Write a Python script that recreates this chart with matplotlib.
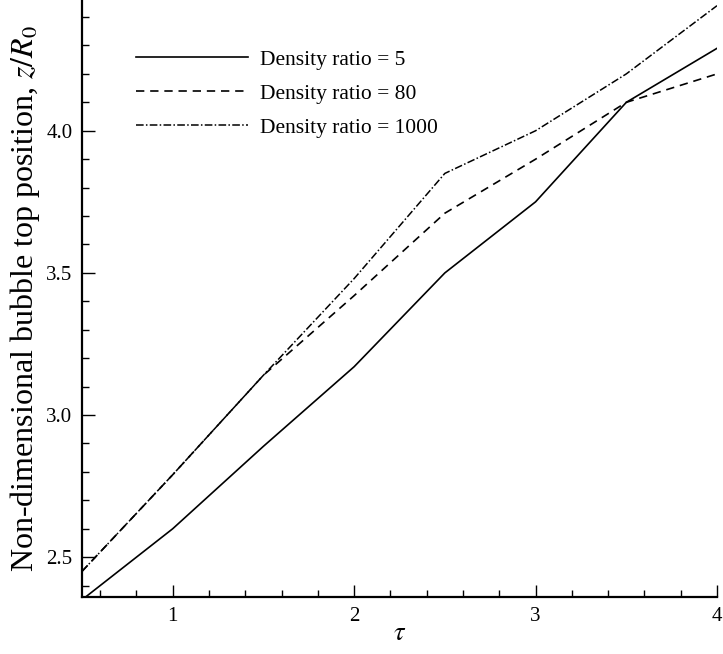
import matplotlib.pyplot as plt
from matplotlib.ticker import MultipleLocator

# dimensionless time and bubble top position for the three density ratios
tau = [0.5, 1.0, 1.5, 2.0, 2.5, 3.0, 3.5, 4.0]
z_ratio5 = [2.35, 2.60, 2.89, 3.17, 3.50, 3.75, 4.10, 4.29]
z_ratio80 = [2.45, 2.79, 3.14, 3.42, 3.71, 3.90, 4.10, 4.20]
z_ratio1000 = [2.45, 2.79, 3.14, 3.48, 3.85, 4.00, 4.20, 4.44]
labels = ["Density ratio = 5", "Density ratio = 80", "Density ratio = 1000"]

plt.rcParams['font.family'] = ['Liberation Serif', 'DejaVu Serif']
plt.rcParams['mathtext.fontset'] = 'stix'

fig = plt.figure(figsize=(7.23, 6.54), dpi=100)
ax = fig.add_axes([0.1134, 0.0872, 0.8783, 0.9128])

ax.plot(tau, z_ratio5, color='black', lw=1.2, ls='-', label=labels[0])
ax.plot(tau, z_ratio80, color='black', lw=1.2, ls=(0, (5, 3.5)), label=labels[1])
ax.plot(tau, z_ratio1000, color='black', lw=1.1, ls=(0, (5, 1.5, 1, 1.5)), label=labels[2])

ax.set_xlim(0.5, 4.0)
ax.set_ylim(2.36, 4.46)

ax.xaxis.set_major_locator(MultipleLocator(1))
ax.xaxis.set_minor_locator(MultipleLocator(0.2))
ax.yaxis.set_major_locator(MultipleLocator(0.5))
ax.yaxis.set_minor_locator(MultipleLocator(0.1))
ax.yaxis.set_major_formatter(lambda v, p: f"{v:.1f}")

ax.tick_params(which='both', direction='in', top=False, right=False,
               labelsize=15, width=1.0, pad=7)
ax.tick_params(which='major', length=9)
ax.tick_params(which='minor', length=5)

for side in ['top', 'right']:
    ax.spines[side].set_visible(False)
for side in ['left', 'bottom']:
    ax.spines[side].set_linewidth(1.6)

ax.set_xlabel(r"$\tau$", fontsize=19, labelpad=-2)
ax.set_ylabel(r"Non-dimensional bubble top position, $z/R_0$", fontsize=23, labelpad=3)

ax.legend(loc='upper left', bbox_to_anchor=(0.055, 0.949), frameon=False,
          fontsize=15.5, handlelength=5.2, handletextpad=0.55, labelspacing=0.65)

fig.savefig("out.png", dpi=100)
